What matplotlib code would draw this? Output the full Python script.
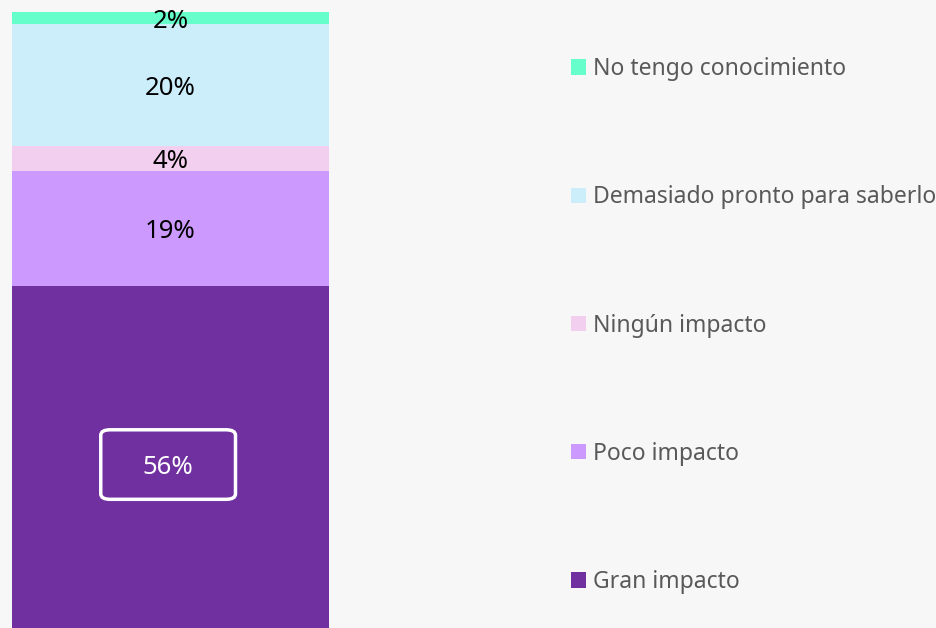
import matplotlib.pyplot as plt
from matplotlib.patches import FancyBboxPatch, Patch

plt.rcParams['font.family'] = ['Noto Sans', 'DejaVu Sans']

# data (bottom to top)
categories = ["Gran impacto", "Poco impacto", "Ningún impacto",
              "Demasiado pronto para saberlo", "No tengo conocimiento"]
values = [56, 19, 4, 20, 2]
labels = ["56%", "19%", "4%", "20%", "2%"]
colors = ["#7030a0", "#cc99ff", "#f2cfee", "#cceefb", "#66ffcc"]

fig = plt.figure(figsize=(9.36, 6.28), dpi=100)
fig.patch.set_facecolor("#f7f7f7")
ax = fig.add_axes([12 / 936, 0, 317 / 936, 616 / 628])
ax.set_facecolor("#f7f7f7")

# rounded box around the largest value
bx, by, bw, bh = -0.22, 21.1, 0.425, 11.4

bottom = 0
for i, (v, lab, c) in enumerate(zip(values, labels, colors)):
    ax.bar(0, v, width=1, bottom=bottom, color=c, edgecolor="none")
    if i == 0:
        ax.text(bx + bw / 2, by + bh / 2, lab, ha="center",
                va="center_baseline", fontsize=18.5, color="white")
    else:
        ax.text(0, bottom + v / 2, lab, ha="center", va="center_baseline",
                fontsize=18.5, color="black")
    bottom += v

box = FancyBboxPatch((bx, by), bw, bh,
                     boxstyle="round,pad=0,rounding_size=0.03",
                     fill=False, edgecolor="white", linewidth=2.5,
                     mutation_aspect=30)
ax.add_patch(box)

ax.set_xlim(-0.5, 0.5)
ax.set_ylim(0, sum(values))
ax.axis("off")

# legend, top entry first
handles = [Patch(facecolor=c, edgecolor="none") for c in colors[::-1]]
leg = fig.legend(handles, categories[::-1], loc="upper left",
                 bbox_to_anchor=(571 / 936, 1 - 57 / 628), frameon=False,
                 fontsize=16.5, labelcolor="#595959", handlelength=0.65,
                 handleheight=0.65, handletextpad=0.3, labelspacing=4.55,
                 borderaxespad=0, borderpad=0)

fig.savefig("out.png", dpi=100, facecolor=fig.get_facecolor())
